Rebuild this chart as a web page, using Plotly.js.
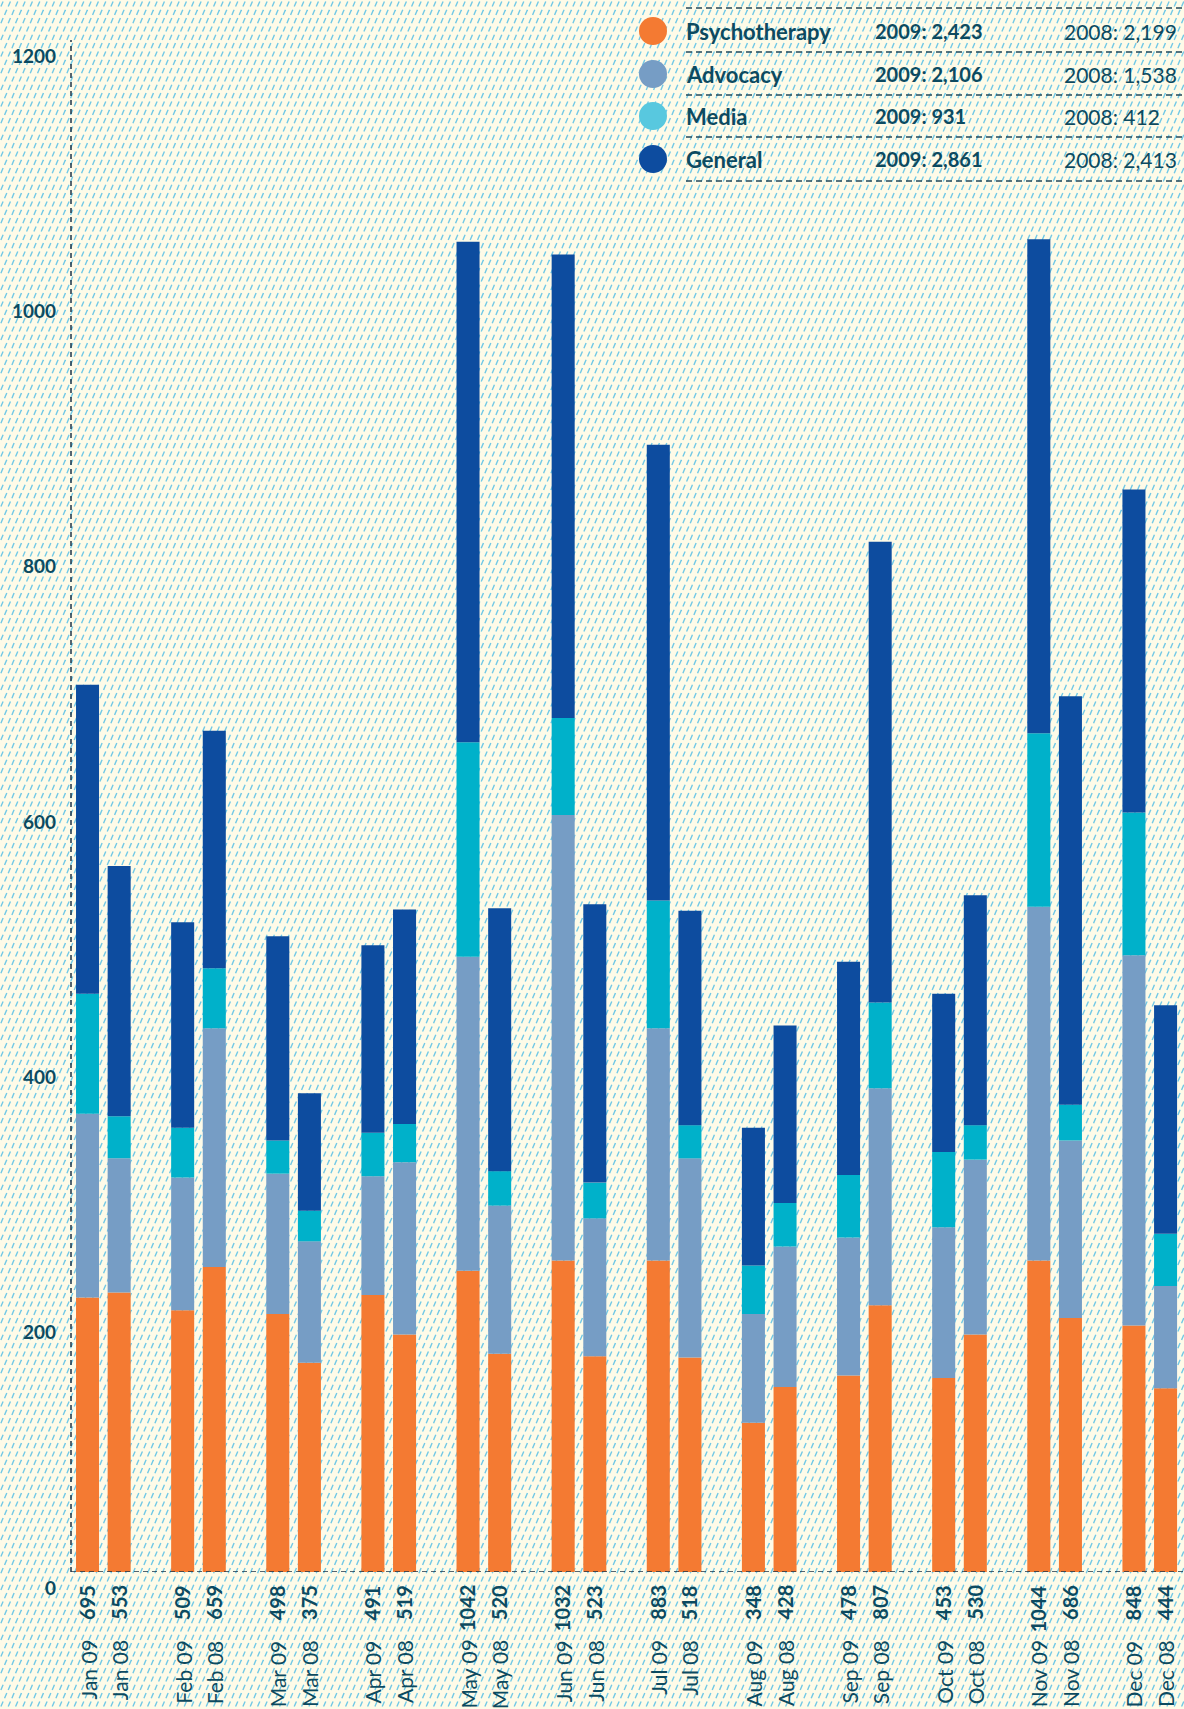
<!DOCTYPE html>
<html>
<head>
<meta charset="utf-8">
<script src="https://cdn.plot.ly/plotly-3.0.1.min.js"></script>
<style>
  html, body { margin: 0; padding: 0; }
  body { width: 1184px; height: 1709px; overflow: hidden; background-color: #fefbe8; }
</style>
</head>
<body>
<div id="chart"></div>
<script>
// ---- data ----
const months = ['Jan','Feb','Mar','Apr','May','Jun','Jul','Aug','Sep','Oct','Nov','Dec'];
const labels09 = ['Jan 09','Feb 09','Mar 09','Apr 09','May 09','Jun 09','Jul 09','Aug 09','Sep 09','Oct 09','Nov 09','Dec 09'];
const labels08 = ['Jan 08','Feb 08','Mar 08','Apr 08','May 08','Jun 08','Jul 08','Aug 08','Sep 08','Oct 08','Nov 08','Dec 08'];

const psych09 = [215,205,202,217,236,244,244,117,154,152,244,193];
const adv09   = [144,104,110, 93,246,349,182, 85,108,118,277,290];
const media09 = [ 94, 39, 26, 34,168, 76,100, 38, 49, 59,136,112];
const gen09   = [242,161,160,147,392,363,357,108,167,124,387,253];

const psych08 = [219,239,164,186,171,169,168,145,209,186,199,144];
const adv08   = [105,187, 95,135,116,108,156,110,170,137,139, 80];
const media08 = [ 33, 47, 24, 30, 27, 28, 26, 34, 67, 27, 28, 41];
const gen08   = [196,186, 92,168,206,218,168,139,361,180,320,179];

const total09 = [695,509,498,491,1042,1032,883,348,478,453,1044,848];
const total08 = [553,659,375,519,520,523,518,428,807,530,686,444];

const seriesNames = ['Psychotherapy','Advocacy','Media','General'];
const legend2009 = ['2009: 2,423','2009: 2,106','2009: 931','2009: 2,861'];
const legend2008 = ['2008: 2,199','2008: 1,538','2008: 412','2008: 2,413'];

const yTicks = [0,200,400,600,800,1000,1200];

// ---- background hatch pattern (decorative) ----
(function () {
  const tw = 22, th = 50, sx = tw / 3, sy = th / 6;
  let lines = '';
  for (let j = 0; j < 6; j++) {
    for (let i = -1; i < 4; i++) {
      const cx = sx * i + (j % 2 ? sx / 2 : 0) + 2;
      const cy = sy * j + 4;
      lines += `<line x1='${(cx - 1.1).toFixed(2)}' y1='${(cy + 2.6).toFixed(2)}' x2='${(cx + 1.1).toFixed(2)}' y2='${(cy - 2.6).toFixed(2)}' stroke='%2370c8e6' stroke-width='1.4'/>`;
    }
  }
  const svg = `<svg xmlns='http://www.w3.org/2000/svg' width='${tw}' height='${th}'>${lines}</svg>`;
  document.body.style.backgroundImage = `url("data:image/svg+xml;utf8,${svg}")`;
})();

// ---- styles ----
const barColors = ['#f47a32','#769dc5','#00b1ca','#0d4c9f'];
const legendColors = ['#f47a32','#769dc5','#58c8df','#0d4c9f'];
const textColor = '#0c4a60';
const FONT = 'Lato, "Open Sans", sans-serif';

const W = 1184, H = 1709;
const ML = 71, MR = 0, MT = 40, MB = 137;
const PW = W - ML - MR, PH = H - MT - MB;
const px = x => (x - ML) / PW;
const py = y => (H - MB - y) / PH;

function cum(arrs, k) {
  return arrs[0].map((_, i) => { let s = 0; for (let j = 0; j < k; j++) s += arrs[j][i]; return s; });
}

const traces = [];
const years = [
  {key: '09', data: [psych09, adv09, media09, gen09]},
  {key: '08', data: [psych08, adv08, media08, gen08]}
];
years.forEach(yr => {
  yr.data.forEach((vals, k) => {
    traces.push({
      type: 'bar',
      x: months,
      y: vals,
      base: cum(yr.data, k),
      offsetgroup: yr.key,
      name: seriesNames[k] + ' ' + yr.key,
      marker: {color: barColors[k], line: {width: 0}},
      hoverinfo: 'skip',
      showlegend: false
    });
  });
});

const annotations = [];
const shapes = [];
const SH = 15.8;
months.forEach((m, i) => {
  [[total09, labels09, -SH], [total08, labels08, SH]].forEach(([tot, lab, xs]) => {
    annotations.push({
      xref: 'x', yref: 'y', x: m, y: 0, xshift: xs - 1, yshift: -11,
      xanchor: 'center', yanchor: 'top', textangle: -90, showarrow: false,
      text: '<b>' + tot[i] + '</b>', font: {family: FONT, size: 20, color: textColor}
    });
    annotations.push({
      xref: 'x', yref: 'y', x: m, y: 0, xshift: xs, yshift: -66,
      xanchor: 'center', yanchor: 'top', textangle: -90, showarrow: false,
      text: lab[i], font: {family: FONT, size: 21, color: textColor}
    });
  });
});

// axes drawn as dashed lines
shapes.push({type: 'line', xref: 'paper', yref: 'paper', x0: 0, x1: 0, y0: 0, y1: 1,
  line: {color: '#1c3448', width: 1.5, dash: '5px,4px'}});
shapes.push({type: 'line', xref: 'paper', yref: 'y', x0: 0, x1: 1, y0: 0, y1: 0,
  line: {color: '#1c3448', width: 1.5, dash: '5px,4px'}});

// legend table
const rowY = [31, 74, 116, 159];
const lineY = [8, 52, 95, 137, 181];
lineY.forEach(y => {
  shapes.push({type: 'line', xref: 'paper', yref: 'paper', x0: px(686), x1: px(1184), y0: py(y), y1: py(y),
    line: {color: '#23485a', width: 1.5, dash: '6px,4px'}});
});
seriesNames.forEach((n, k) => {
  const cy = rowY[k];
  shapes.push({type: 'circle', xref: 'paper', yref: 'paper',
    x0: px(653 - 14), x1: px(653 + 14), y0: py(cy + 14), y1: py(cy - 14),
    fillcolor: legendColors[k], line: {width: 0}});
  annotations.push({xref: 'paper', yref: 'paper', x: px(684), y: py(cy), xanchor: 'left', yanchor: 'middle',
    showarrow: false, text: '<b>' + n + '</b>', font: {family: FONT, size: 22, color: textColor}});
  annotations.push({xref: 'paper', yref: 'paper', x: px(873), y: py(cy), xanchor: 'left', yanchor: 'middle',
    showarrow: false, text: '<b>' + legend2009[k] + '</b>', font: {family: FONT, size: 20, color: textColor}});
  annotations.push({xref: 'paper', yref: 'paper', x: px(1062), y: py(cy), xanchor: 'left', yanchor: 'middle',
    showarrow: false, text: legend2008[k], font: {family: FONT, size: 21, color: textColor}});
});

const layout = {
  width: W, height: H,
  margin: {l: ML, r: MR, t: MT, b: MB, pad: 0},
  paper_bgcolor: 'rgba(0,0,0,0)',
  plot_bgcolor: 'rgba(0,0,0,0)',
  barmode: 'group',
  bargap: 0.335,
  bargroupgap: 0.272,
  showlegend: false,
  font: {family: FONT, color: textColor},
  xaxis: {type: 'category', range: [-0.34, 11.36], showticklabels: false, ticks: '',
    showgrid: false, zeroline: false, showline: false, fixedrange: true},
  yaxis: {range: [0, 1200], tickvals: yTicks, ticktext: yTicks.map(String),
    showgrid: false, zeroline: false, showline: false, ticks: '',
    ticklabelshift: 16, ticklabelstandoff: 14,
    tickfont: {family: FONT, size: 19, color: textColor, weight: 'bold'}},
  shapes: shapes,
  annotations: annotations
};

Plotly.newPlot('chart', traces, layout, {displayModeBar: false, staticPlot: true});
</script>
</body>
</html>
